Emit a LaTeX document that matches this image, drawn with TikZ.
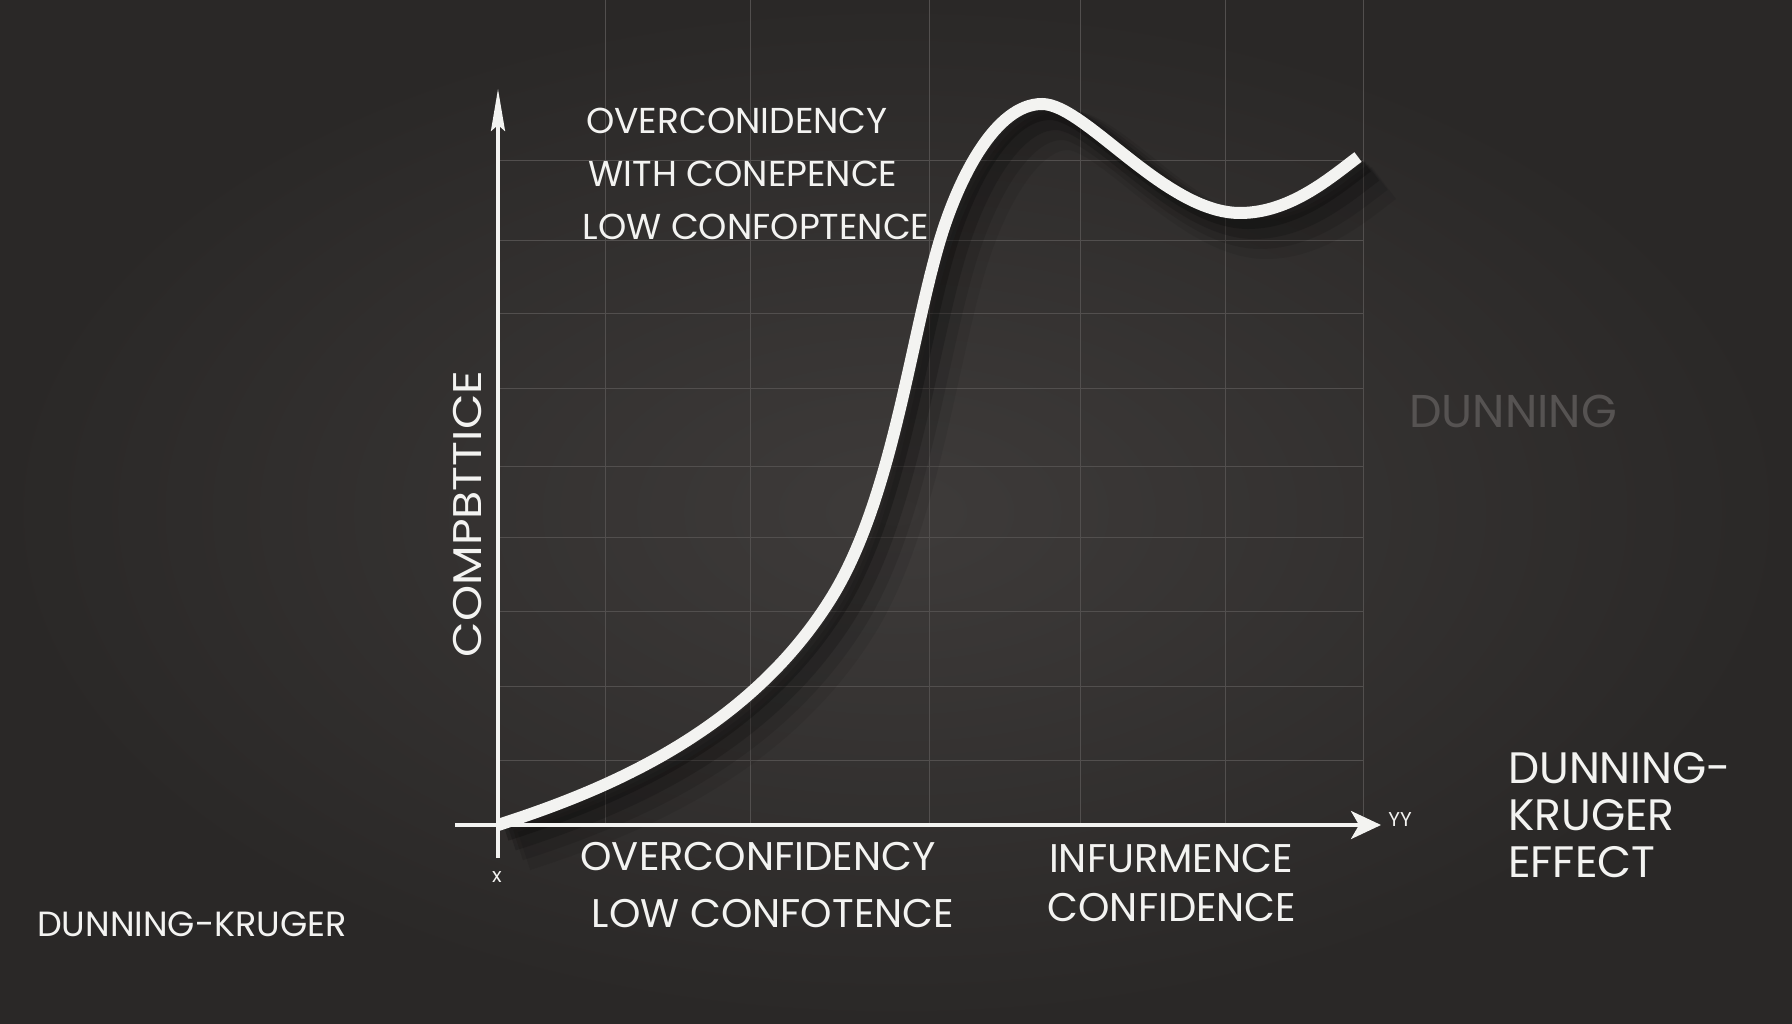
\documentclass[tikz,border=0pt]{standalone}
\usepackage{fontspec}
\setmainfont{Poppins}
\usetikzlibrary{arrows.meta,positioning}
\definecolor{bgdark}{RGB}{42,40,39}
\definecolor{bglight}{RGB}{62,59,58}
\definecolor{gridc}{RGB}{82,79,78}
\definecolor{chalk}{RGB}{243,243,241}
\definecolor{ghost}{RGB}{86,83,82}
\begin{document}
\begin{tikzpicture}[x=1pt, y=-1pt, >=Stealth,
  lbl/.style={text=chalk, inner sep=0pt, font=\fontsize{36}{40}\selectfont},
  big/.style={lbl, font=\fontsize{40}{44}\selectfont},
  tiny/.style={lbl, font=\fontsize{20}{20}\selectfont},
  axis/.style={chalk, line width=3.5pt}]
\shade[inner color=bglight, outer color=bgdark] (0,0) rectangle (1792,1024);
\useasboundingbox (0,0) rectangle (1792,1024);
\foreach \gx in {605,750,929,1080,1225,1363} \draw[gridc, line width=0.9pt] (\gx,0) -- (\gx,825);
\foreach \gy in {160,240,313,388,466,537,611,686,760} \draw[gridc, line width=0.9pt] (498,\gy) -- (1363,\gy);
\coordinate (o) at (498,825);
\coordinate (ybot) at (498,858);
\coordinate (ytop) at (498,89);
\coordinate (xbeg) at (455,825);
\coordinate (xend) at (1381,825);
\foreach \o/\w/\c/\a in {26/40/black/0.07, 20/32/black/0.1, 14/24/black/0.16, 8/16/black/0.22, 0/12/chalk/1}
  \draw[\c, opacity=\a, line width=\w pt, shift={(\o,\o)}] (498,825) .. controls (600,792) and (745,735) .. (830,600)
    .. controls (892,502) and (910,340) .. (940,240) .. controls (958,180) and (995,104) .. (1042,104)
    .. controls (1085,104) and (1165,213) .. (1240,213) .. controls (1290,213) and (1330,178) .. (1358,157);
\draw[axis, -{Stealth[length=42pt,width=14pt,inset=6pt]}] (ybot) -- (ytop);
\draw[axis, -{Stealth[length=30pt,width=28pt,inset=8pt]}] (xbeg) -- (xend);
\node[lbl] (over) at (737,121) {OVERCONIDENCY};
\node[lbl] (with) at (743,174) {WITH CONEPENCE};
\node[lbl] (lowup) at (756,227) {LOW CONFOPTENCE};
\node[big, rotate=90] (comp) at (468,514) {\scalebox{1.15}[1]{COMPBTTICE}};
\node[big] (overx) at (758,857) {OVERCONFIDENCY};
\node[big] (lowx) at (773,914) {LOW CONFOTENCE};
\node[big] (infu) at (1171,859) {INFURMENCE};
\node[big] (conf) at (1172,908) {CONFIDENCE};
\node[tiny] (xl) at (497,877) {x};
\node[tiny] (yl) at (1400,820) {YY};
\node[lbl, text=ghost, font=\fontsize{46}{46}\selectfont] (dun) at (1513,411) {DUNNING};
\node[lbl, align=left, anchor=west, font=\fontsize{44}{47}\selectfont] (dke) at (1508,815) {DUNNING-\\KRUGER\\EFFECT};
\node[lbl, font=\fontsize{35}{40}\selectfont] (dk) at (192,924) {DUNNING-KRUGER};
\end{tikzpicture}
\end{document}
